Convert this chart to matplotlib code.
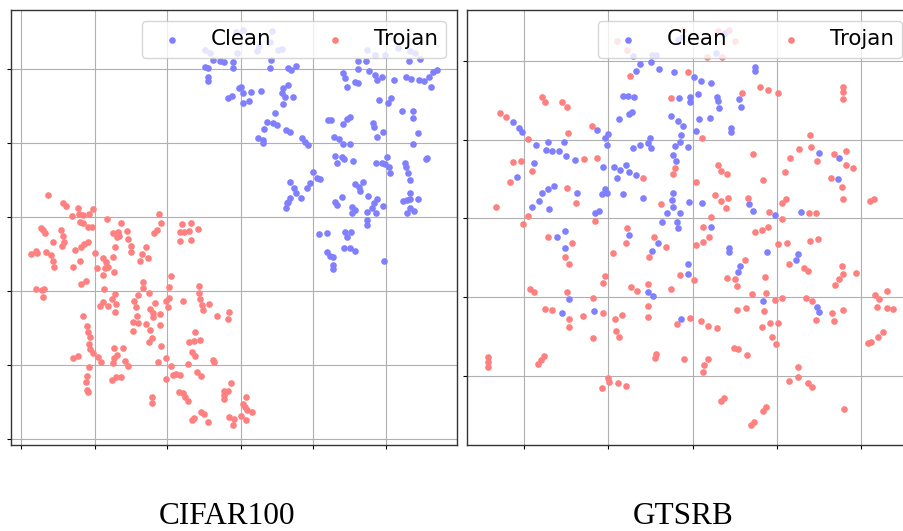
import numpy as np
import matplotlib
matplotlib.use("Agg")
import matplotlib.pyplot as plt

# 2-D embedding of penultimate-layer features (arbitrary embedding units)
cifar_clean = [
    (205, 50), (210, 53.3), (213.3, 60), (220, 61), (224, 62.3), (233.3, 61.7), (233.3, 67.7),
    (205, 66.7), (208.3, 68.3), (208.3, 76.7), (208.3, 81), (228.3, 97.7), (232.3, 96), (239.3, 88.3),
    (236, 32), (243, 30), (272, 31), (270, 42), (257, 51), (259, 46), (278, 50), (282, 49), (237, 53),
    (271, 60), (270, 68.3), (288.3, 68.3), (290.7, 70), (296, 66),
    (358.3, 61), (365.7, 61), (358.3, 69.3), (369.3, 70.7), (343.3, 72.7), (345, 77.7), (375, 75),
    (381.7, 76.7), (376.7, 80), (355, 81.7), (358.3, 83.3), (347.3, 87.3), (394.3, 80), (405.7, 77.3),
    (411, 79), (419, 80), (409.3, 61), (420, 59.3), (424, 81), (429.3, 76.7), (433.3, 72.3),
    (436.7, 70), (430.7, 86.7),
    (366.7, 50), (375, 55), (385, 55), (398.3, 48.3), (410, 51), (415, 53.3),
    (240.7, 87.3), (242.7, 93.3), (243.3, 103.3), (249.3, 101), (250.7, 92.3), (261.3, 90.7),
    (282.7, 88.3), (288.3, 85), (281.7, 93.3), (285, 96.7), (292.7, 97.3), (283.3, 104.3),
    (275, 113.3), (266.7, 121.7), (273.3, 123.3), (276.7, 125), (264.3, 129.3), (258.3, 138.3),
    (262.7, 140), (263.3, 143.3), (286, 130), (290, 132.3), (301.7, 137.7), (305, 141.7), (307.7, 145),
    (328.3, 120), (331, 120), (342.7, 124.3), (346.7, 119.3), (350, 116.7),
    (379.3, 100), (388.3, 103.3), (391, 98.3), (401.7, 111), (412.7, 111), (413.3, 118.3),
    (373.3, 123.3), (374, 126.7), (382.7, 131.7), (377.3, 136.7), (417.7, 133.3), (412.7, 144),
    (334.3, 136.7), (339, 139.3), (342.7, 144), (350, 144),
    (335, 155.7), (336.7, 162.7), (341.7, 157.3), (344, 159.3), (352.7, 161),
    (376, 162.7), (381.7, 163.3), (386.7, 156.7), (385, 164.3), (389.3, 166.7), (390, 172.7),
    (405, 163.3), (406, 166.7), (408.3, 172.7), (410, 180), (427.3, 157.7), (426, 159.3),
    (312.7, 171.7), (316.7, 177.7), (320, 179), (310, 183.3), (307.3, 188.3), (290, 181.7),
    (294, 188.3), (296, 192.7), (300.7, 198.3), (290, 198.3), (287.7, 201.7), (285.7, 208.3),
    (286.7, 203.3),
    (355, 184), (359.3, 186.7), (362.7, 182.3), (360, 190.7), (368.3, 196), (376.7, 199),
    (383.3, 205.7), (374, 203.3), (371.7, 208.3), (366.7, 211.7), (376, 213.3), (366.7, 220),
    (366.7, 225),
    (335, 201.7), (336.7, 205), (342.3, 196.7), (351.7, 206.7), (355, 210), (352.3, 213.3),
    (402.7, 201), (406.7, 200), (410, 199.3), (417.7, 199), (410, 192.7), (410, 208.3),
    (414.3, 210.7), (406.7, 213.3),
    (319, 234.3), (327.3, 233.3), (345, 231.7), (351, 232.3), (346.7, 237.3), (344, 247.7),
    (350, 248.3), (355, 250.7), (326.7, 251.7), (330, 255.7), (332.7, 257.3), (333.3, 265),
    (333.3, 269.3), (384, 260.7),
]

cifar_trojan = [
    (48.3, 195), (62.7, 202.7), (65.7, 205.7), (77.7, 208.3), (71.7, 216), (79, 214.3), (83.3, 215),
    (89.3, 214.3), (93.3, 209), (80, 222.3), (83.3, 223.3), (88.3, 226.7), (91.7, 226.7),
    (106.7, 219), (120.7, 222.7), (40.7, 227.7), (42.7, 230), (45, 232.7), (60.7, 230), (63.3, 236),
    (64, 241.7), (61.7, 246), (52.7, 242.3), (113.3, 232.7), (118.3, 231.7), (126.7, 230.7),
    (119.3, 236), (117.3, 237.3), (128.3, 239.3), (131, 246), (131, 251.7), (159.3, 214.3),
    (161, 223.3), (156.7, 230), (154.3, 232.7), (181.7, 224.3), (190.7, 222.7), (180, 231.7),
    (184.3, 231.7), (189.3, 231), (197.7, 229.3), (180.3, 240.7), (190.7, 240),
    (30.7, 254), (36, 251), (36.7, 253.3), (46, 251.7), (51, 255), (52.7, 260.7), (54, 266.7),
    (75, 250), (81, 246.7), (84.3, 244.3), (88.3, 242.3), (80, 260.7), (73.3, 266.7), (95, 253.3),
    (103.3, 258.3), (106, 262.3), (108.3, 266.7), (105, 268.3), (103.3, 275), (97.3, 267.7),
    (114, 271.7), (113.3, 256.7), (115, 246.7), (145.7, 246.7), (141.7, 254.3), (147.7, 257.7),
    (140, 261), (81, 284), (86, 281), (36, 289.3), (41.7, 290), (44.3, 289), (42.7, 297.3),
    (170.7, 275.7), (169.3, 286.7), (169.3, 297.7), (167.7, 306.7), (166, 301), (142.7, 282.3),
    (143.3, 288.3), (104, 289.3), (111.7, 299), (115, 294.3), (115.7, 304.3), (115, 312.3),
    (108.3, 305.7), (103.3, 301.7), (100, 306), (138.3, 295), (134.3, 300.7), (136, 307.3),
    (149.3, 292.7), (155, 302.7), (150, 309.3), (153.3, 313.3), (153.3, 316.7), (160, 314.3),
    (137.3, 316), (133.3, 322.3), (138.3, 322.7), (145.7, 324), (150, 330), (133.3, 331),
    (160, 325), (152.3, 337.7), (149.3, 341.7), (160.7, 345.7), (182.7, 301),
    (198.7, 286), (199.3, 293.3), (200, 299.3), (202.3, 305), (203.3, 310), (209, 304),
    (217.3, 315.7), (228.7, 312.3), (227.7, 319.3),
    (83.3, 316), (86.7, 325.7), (88.3, 332.3), (90, 337.3), (89, 344.3), (90, 349.3), (92.7, 353.3),
    (98.3, 357.3), (100.7, 362.3), (89.3, 366.7), (87.3, 376), (85.7, 382.3), (87.3, 390),
    (87.7, 392.3), (72.7, 357.7), (78.3, 355.7),
    (114.3, 348.3), (122.7, 347.7), (116.7, 355), (114.3, 358.3), (112.7, 362.7), (125, 361),
    (128.3, 365.7), (112.3, 380), (116, 377.3), (120.7, 377.3),
    (158.3, 361.7), (166, 358.3), (170.7, 366), (165.7, 379.3), (173.3, 375), (175.7, 374), (180, 375),
    (189, 341.7), (195, 331.7), (194.3, 341), (200, 340), (191.7, 351.7), (195, 355.7),
    (187.7, 364.3), (196.7, 372.3), (201, 375.7), (213.3, 360), (214, 362.3),
    (179, 392.3), (182.7, 393.3), (185, 396.7), (187.7, 400.7), (152.3, 396.7), (151.7, 403.3),
    (230.7, 383.3), (224.3, 391), (228.3, 390.7), (224.3, 395), (224.3, 399), (245.7, 396.7),
    (242.7, 404), (245, 407.3), (247.3, 410), (251.7, 411.7), (240.7, 415.7), (246, 420),
    (229.3, 416.7), (234.3, 419.3), (232.7, 425), (201, 412.3), (204, 414), (208.3, 421.7),
    (192.3, 420), (194, 417.7),
]

gtsrb_clean = [
    (632.7, 55.7), (651.7, 55), (656, 54.5), (678.3, 40), (681.7, 36.7), (725, 33.3), (716, 53.3),
    (635.7, 70.7), (640.3, 64), (651.3, 62.3), (659.3, 69), (674, 71.7), (755, 66.7), (755.3, 70.7),
    (623.3, 96), (628.3, 96), (634.3, 96.7), (629.3, 114.3), (632, 111.7), (619.3, 119),
    (678.7, 98.3), (690, 96.7), (671, 116.3), (678.3, 120.7), (682.7, 126), (513.3, 121.7),
    (519.3, 127.7), (522, 131.7), (536, 145), (548.3, 142), (545.7, 150), (552, 150.7),
    (558.7, 150.7), (564.3, 142), (565.7, 156), (575, 159.7), (596.7, 130), (605, 137.7),
    (607.7, 134.3), (607.3, 145.3), (633.3, 147.7), (640, 145), (647.7, 143.3), (650, 137.7),
    (651, 147.7), (675, 146), (680, 141.7), (680.7, 135), (688.3, 147.3), (672.7, 155), (676, 160.7),
    (534.3, 163.3), (517.3, 176.7), (603.3, 166.7), (614, 166.7), (620, 170), (625.7, 165),
    (629, 172), (636, 175), (616.7, 177.7), (554.3, 186), (548.3, 188.7), (541.7, 193.3),
    (539, 200.7), (531.7, 207.3), (548.7, 208.7), (577, 193.3), (601.7, 194.3), (605, 189.3),
    (606.7, 192.7), (622.7, 194.3), (643.3, 198.3), (595, 213.3), (599.3, 210.7), (673.3, 192.7),
    (672.3, 200), (673.3, 206.7), (667.3, 212.7), (680, 213.3), (661.7, 221.7), (676.7, 222.3),
    (678.3, 228.3), (688.7, 201.7), (565, 231), (556.7, 236.7), (628.7, 235),
    (694, 76.7), (700.7, 80.7), (711, 83.3), (698.3, 93.7), (690, 101.7), (716.7, 96.7),
    (718.3, 100.7), (719.3, 108.3), (739, 99.3), (741, 107.3), (699.3, 119), (710, 118.3),
    (696, 130.7), (731, 128.3), (731, 132.3), (819, 153.3), (839.3, 157.7), (837.7, 179.3),
    (701.7, 202.7), (749, 204), (753.3, 211), (775.3, 215), (801, 212.3), (711, 226.7),
    (565.3, 247.7), (658.3, 243.3), (651.7, 250.7), (688.3, 264.3), (687.7, 274.3), (647.7, 291.7),
    (652.7, 295.7), (569, 299.3), (562, 313.3), (594, 310.7), (681, 318.7),
    (729, 247.7), (729, 251.7), (767.3, 252.3), (798.3, 254.3), (795.7, 260), (740, 266),
    (738.3, 271.7), (763.3, 301), (816.7, 307.3), (819.3, 311.7),
]

gtsrb_trojan = [
    (617.3, 40.7), (626.7, 50), (682.7, 30), (718.3, 31), (729.3, 30), (735, 41), (706.7, 56.7),
    (722.3, 56.7),
    (630, 76), (542.3, 96.7), (545, 102.3), (562.3, 101.7), (566.7, 107.3), (500, 113.3), (506, 117.3),
    (527.7, 139), (568.3, 132.7), (592.3, 125.7), (584, 159), (596.7, 158.3), (512.7, 162.3),
    (520.7, 161.3), (532.3, 171), (510, 181.7), (643.3, 178.3), (670.7, 98.3), (687.7, 71.7),
    (675.3, 168.3), (673.3, 174.3), (567.3, 188.3), (575.7, 203.3), (495.7, 207.3), (527.7, 216),
    (523.3, 224), (595, 221), (661, 204.3), (626.7, 228.3), (654.3, 236.7), (547.7, 236.7),
    (760, 87.3), (768.3, 90), (778.3, 92.7), (741.7, 93.3), (842.7, 87.3), (843.3, 91.7),
    (842.7, 99.3), (701.7, 138.3), (810, 135), (810.7, 146.7), (799, 149), (790, 158.3),
    (785, 171.7), (817.3, 160.7), (834, 154), (846, 150.7), (845.7, 165), (852.7, 167.7),
    (752.7, 154), (717.7, 165), (720.7, 171), (727.3, 173.7), (696, 181.7), (762.7, 180),
    (831, 177.7), (841.7, 186.7), (843.3, 198.7), (715, 195), (720.7, 201), (728.3, 197.7),
    (726, 208.3), (748.3, 198), (769.3, 212), (781.7, 203.3), (785.7, 199.3), (782.3, 219.3),
    (809.3, 213.3), (816, 213.3), (870, 201), (874, 199.3), (710.7, 217.3), (703.3, 226.7),
    (709.3, 236.7), (755, 232.3), (761.7, 230), (768.3, 226.7),
    (571.7, 243.3), (565, 257.3), (569.3, 264), (626, 243.3), (666, 246.7), (612.7, 253.3),
    (649, 256.7), (605, 276), (602.7, 282.7), (680, 275), (530, 289), (534.3, 292.3),
    (567.3, 292.3), (593.3, 298.3), (630.7, 287.3), (636.7, 290.7), (647.7, 284.3), (670.7, 289.3),
    (545, 309.3), (551.7, 310.3), (582.7, 316), (569.3, 318.7), (568.7, 327), (602.7, 313),
    (615, 318.7), (621.7, 315.3), (648.3, 306), (648.3, 317.3), (676.7, 324), (690, 318.3),
    (616, 330.7), (619, 336.7), (593.3, 338.3), (487.7, 357.3), (487.7, 362.3), (487.7, 367.3),
    (537.7, 364), (541, 360), (544.3, 355.7), (656, 354.3), (655, 358.3), (684.3, 359.3),
    (607.7, 378.3), (609.3, 382.3), (601.7, 388.3), (618.3, 383.3), (625.7, 386),
    (703.3, 242.3), (695.7, 245), (777.7, 244), (786.7, 243.3), (810, 240.7), (817.7, 239),
    (745, 260), (789, 264), (804.3, 267.7), (808.3, 271), (842.3, 266), (843.3, 274), (839.3, 279),
    (835, 285), (855.7, 273.3), (694.3, 280), (726.7, 278.3), (735, 279.3), (736.7, 285.7),
    (765, 276.7), (751.7, 294), (765.7, 293.3), (775, 300), (781.7, 298.3), (805.7, 297.7),
    (811.7, 301), (875, 295), (879.3, 299), (887.3, 291), (876.7, 306.7), (886.7, 307.7),
    (893.3, 309), (737.3, 310), (746, 307.7), (764.3, 311), (701, 321), (707.7, 325.7),
    (717.3, 327.7), (762.3, 326.7), (770, 323.3), (778.3, 322.7), (772.3, 336.7), (775.7, 344),
    (832.3, 313.3), (834, 320.7), (843.3, 310), (815.7, 320), (868.3, 343.3), (870.7, 341.7),
    (878.3, 336.7), (883.3, 331.7), (734.3, 347.7), (738.3, 349.3), (746.7, 355), (707.7, 359.3),
    (704, 365), (702.7, 371.7), (798.3, 367.3), (798.3, 377.3), (789, 380.7), (807.7, 382.7),
    (811.7, 386.7), (720.7, 400.7), (724, 398.3), (844.3, 409), (763.3, 410.7), (766, 407.3),
    (751, 425), (754, 422.3),
]

# grid / tick locations in embedding units
cifar_xticks = [21.3, 94.7, 167.3, 240.7, 313.3, 386]
cifar_yticks = [69.3, 143.3, 217.3, 291.3, 365.3, 439.3]
gtsrb_xticks = [524.3, 608.3, 692.7, 776.7, 861]
gtsrb_yticks = [61, 140, 218.3, 297.3, 375.7]

dataset_names = ["CIFAR100", "GTSRB"]
series_labels = ["Clean", "Trojan"]
series_colors = ["#8080ff", "#ff8080"]

W, H = 904, 531
fig = plt.figure(figsize=(W / 100, H / 100), dpi=100)
ax1 = fig.add_axes([10.7 / W, 86 / H, 446.3 / W, 435 / H])
ax2 = fig.add_axes([467.3 / W, 86 / H, 445.7 / W, 435 / H])

panels = [
    (ax1, [cifar_clean, cifar_trojan], (10.7, 457), (445, 10), cifar_xticks, cifar_yticks),
    (ax2, [gtsrb_clean, gtsrb_trojan], (467.3, 913), (445, 10), gtsrb_xticks, gtsrb_yticks),
]

for ax, series, xlim, ylim, xt, yt in panels:
    for pts, lab, col in zip(series, series_labels, series_colors):
        arr = np.array(pts)
        ax.scatter(arr[:, 0], arr[:, 1], s=23, c=col, linewidths=0, label=lab)
    ax.set_xlim(*xlim)
    ax.set_ylim(*ylim)
    ax.set_xticks(xt)
    ax.set_yticks(yt)
    ax.set_axisbelow(True)
    ax.grid(True, color="#b0b0b0", linewidth=0.8)
    ax.tick_params(labelbottom=False, labelleft=False, length=3, width=0.8)
    for sp in ax.spines.values():
        sp.set_color("#333333")
        sp.set_linewidth(1.0)
    ax.legend(loc="upper right", ncol=2, fontsize=15.4)

fig.text(227 / W, 7 / H, dataset_names[0], ha="center", va="baseline",
         fontsize=22.5, family="Liberation Serif")
fig.text(683 / W, 7 / H, dataset_names[1], ha="center", va="baseline",
         fontsize=22.5, family="Liberation Serif")

fig.savefig("out.png", dpi=100)
